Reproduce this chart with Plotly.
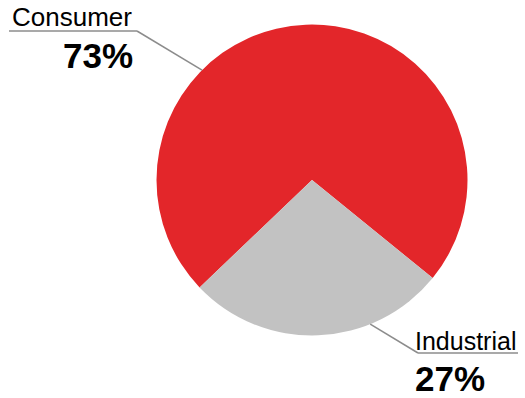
import math
import plotly.graph_objects as go

# Segment shares (percent)
segments = ["Consumer", "Industrial"]
shares = [73, 27]
colors = ["#E3262A", "#C2C2C2"]

W, H = 525, 398
CX, CY, R = 312, 180, 155.5   # pie centre / radius in pixels
START = 226.3                 # bearing (deg, clockwise from 12 o'clock) of first slice

def px(x):
    return x / W

def py(y):
    return 1 - y / H

def edge(bearing):
    a = math.radians(bearing)
    return CX + R * math.sin(a), CY - R * math.cos(a)

fig = go.Figure(go.Pie(
    labels=segments,
    values=shares,
    sort=False,
    direction="clockwise",
    rotation=START,
    marker=dict(colors=colors, line=dict(width=0)),
    textinfo="none",
    hoverinfo="label+percent",
    showlegend=False,
    domain=dict(x=[px(CX - R), px(CX + R)], y=[py(CY + R), py(CY - R)]),
))

line_style = dict(color="#8C8C8C", width=1.5)
font = "Liberation Sans, Arial, sans-serif"

# Leader lines: pie edge -> elbow -> underline under the name
ex, ey = edge(315)
fig.add_shape(type="line", xref="paper", yref="paper",
              x0=px(ex), y0=py(ey), x1=px(137), y1=py(31), line=line_style)
fig.add_shape(type="line", xref="paper", yref="paper",
              x0=px(137), y0=py(31), x1=px(9), y1=py(31), line=line_style)

ex, ey = edge(158)
fig.add_shape(type="line", xref="paper", yref="paper",
              x0=px(ex), y0=py(ey), x1=px(418), y1=py(353), line=line_style)
fig.add_shape(type="line", xref="paper", yref="paper",
              x0=px(418), y0=py(353), x1=px(518), y1=py(353), line=line_style)

# name, value text, name pos, name size, value pos, value anchor
labels = [
    (segments[0], f"<b>{shares[0]}%</b>", 11, 17, 26, 134, 56, "right"),
    (segments[1], f"<b>{shares[1]}%</b>", 414, 341, 25, 414, 378, "left"),
]
for name, pct, nx, ny, nsize, vx, vy, vanchor in labels:
    fig.add_annotation(text=name, xref="paper", yref="paper", x=px(nx), y=py(ny),
                       xanchor="left", yanchor="middle", showarrow=False, borderpad=0,
                       font=dict(family=font, size=nsize, color="#000000"))
    fig.add_annotation(text=pct, xref="paper", yref="paper", x=px(vx), y=py(vy),
                       xanchor=vanchor, yanchor="middle", showarrow=False, borderpad=0,
                       font=dict(family=font, size=35, color="#000000"))

fig.update_layout(
    width=W, height=H,
    margin=dict(l=0, r=0, t=0, b=0),
    paper_bgcolor="white", plot_bgcolor="white",
)

fig.write_html("out.html")
